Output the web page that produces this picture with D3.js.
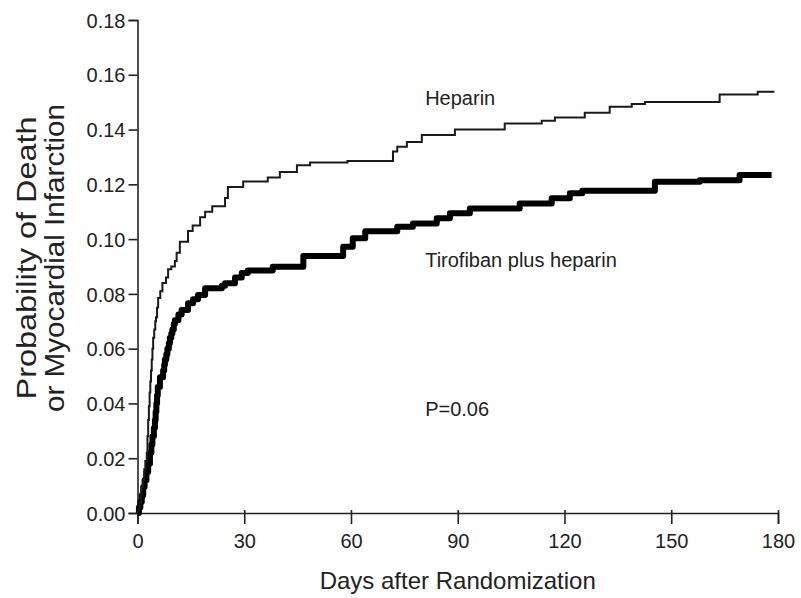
<!DOCTYPE html>
<html>
<head>
<meta charset="utf-8">
<script src="https://cdn.jsdelivr.net/npm/d3@7"></script>
<style>
  html, body { margin: 0; padding: 0; background: #fff; }
  svg text { font-family: "Liberation Sans", Arial, Helvetica, sans-serif; fill: #222; }
</style>
</head>
<body>
<svg id="chart" width="801" height="598"></svg>
<script>
// Kaplan-Meier style cumulative event curves: [day, probability]
const heparin = [
  [0, 0], [0.3, 0.002], [0.6, 0.004], [0.9, 0.007], [1.2, 0.0095], [1.5, 0.012],
  [1.9, 0.016], [2.2, 0.019], [2.6, 0.022], [2.8, 0.028], [3.0, 0.034], [3.2, 0.039],
  [3.4, 0.044], [3.6, 0.048], [3.8, 0.052], [4.0, 0.056], [4.2, 0.060], [4.4, 0.064],
  [4.7, 0.067], [5.0, 0.070], [5.2, 0.0715], [5.5, 0.075], [5.8, 0.0785], [6.4, 0.081],
  [7.0, 0.084], [8.0, 0.086], [8.6, 0.089], [9.5, 0.090], [10.5, 0.092], [11.0, 0.095],
  [11.9, 0.099], [14.2, 0.103], [15.5, 0.105], [17.6, 0.108], [19.0, 0.110], [21.0, 0.112],
  [24.6, 0.115], [25.4, 0.119], [29.7, 0.121], [36.6, 0.1225], [40.0, 0.1245], [44.8, 0.127],
  [48.5, 0.128], [59.0, 0.1285], [71.8, 0.132], [73.0, 0.1337], [75.7, 0.1355], [79.9, 0.138],
  [89.2, 0.140], [103.2, 0.1422], [113.6, 0.1432], [117.3, 0.1444], [125.7, 0.1461],
  [132.7, 0.1483], [138.9, 0.1493], [142.6, 0.1501], [163.6, 0.1528], [174.3, 0.1538],
  [179.0, 0.1538]
];

const tirofiban = [
  [0, 0], [0.4, 0.002], [0.8, 0.004], [1.2, 0.0065], [1.6, 0.0095], [2.0, 0.012],
  [2.5, 0.015], [3.0, 0.018], [3.5, 0.022], [3.9, 0.025], [4.2, 0.028], [4.6, 0.031],
  [4.9, 0.034], [5.1, 0.037], [5.3, 0.040], [5.5, 0.043], [5.7, 0.046], [6.3, 0.0496],
  [7.2, 0.052], [7.5, 0.054], [7.7, 0.056], [8.1, 0.058], [8.4, 0.060], [8.8, 0.062],
  [9.1, 0.064], [9.5, 0.0655], [9.8, 0.067], [10.2, 0.069], [10.5, 0.0704], [11.5, 0.0725],
  [12.4, 0.0741], [14.2, 0.0766], [15.6, 0.078], [17.0, 0.0796], [19.0, 0.0821], [23.7, 0.083],
  [24.6, 0.0839], [27.4, 0.086], [29.3, 0.0876], [31.0, 0.0885], [38.0, 0.0899], [46.6, 0.0938],
  [57.8, 0.0972], [60.5, 0.1003], [64.0, 0.1029], [73.0, 0.1045], [77.4, 0.1057], [84.1, 0.1076],
  [87.8, 0.1094], [93.4, 0.1112], [107.4, 0.113], [116.4, 0.1149], [121.5, 0.1167],
  [125.0, 0.1177], [145.4, 0.1209], [158.0, 0.1215], [169.2, 0.1234], [178.2, 0.1234]
];

const xTicks = [0, 30, 60, 90, 120, 150, 180];
const yTicks = [0, 0.02, 0.04, 0.06, 0.08, 0.10, 0.12, 0.14, 0.16, 0.18];

const seriesLabels = [
  { text: "Heparin", day: 80, value: 0.1489 },
  { text: "Tirofiban plus heparin", day: 80, value: 0.0898 },
  { text: "P=0.06", day: 80, value: 0.0355 }
];

const svg = d3.select("#chart");
const plot = { left: 137.5, right: 778, top: 20, bottom: 513 };

const x = d3.scaleLinear().domain([0, 180]).range([plot.left, plot.right]);
const y = d3.scaleLinear().domain([0, 0.18]).range([plot.bottom, plot.top]);

// Axes
const xAxis = svg.append("g")
  .attr("transform", `translate(0,${plot.bottom})`)
  .call(d3.axisBottom(x).tickValues(xTicks).tickSizeOuter(0).tickSize(11).tickFormat(d3.format("d")));
xAxis.selectAll(".tick line").attr("y1", -3).attr("y2", 11);
xAxis.selectAll(".tick text").attr("y", 35).attr("dy", null).style("font-size", "20px");

const yAxis = svg.append("g")
  .attr("transform", `translate(${plot.left},0)`)
  .call(d3.axisLeft(y).tickValues(yTicks).tickSizeOuter(0).tickSize(9).tickPadding(3).tickFormat(d3.format(".2f")));
yAxis.selectAll(".tick text").attr("dy", "0.36em").style("font-size", "20px");

svg.selectAll(".domain, .tick line").attr("stroke", "#222").attr("stroke-width", 1.6);

// Curves
const line = d3.line()
  .x(d => x(d[0]))
  .y(d => y(d[1]))
  .curve(d3.curveStepAfter);

svg.append("path")
  .datum(tirofiban)
  .attr("fill", "none")
  .attr("stroke", "#000")
  .attr("stroke-width", 6)
  .attr("stroke-linejoin", "round")
  .attr("d", line);

svg.append("path")
  .datum(heparin)
  .attr("fill", "none")
  .attr("stroke", "#1a1a1a")
  .attr("stroke-width", 2)
  .attr("d", line);

// Curve annotations
svg.selectAll("text.series-label")
  .data(seriesLabels)
  .join("text")
  .attr("class", "series-label")
  .attr("x", d => x(d.day) + 3)
  .attr("y", d => y(d.value))
  .style("font-size", "20px")
  .text(d => d.text);

// Axis titles
svg.append("text")
  .attr("x", (plot.left + plot.right) / 2)
  .attr("y", 589)
  .attr("text-anchor", "middle")
  .style("font-size", "24px")
  .text("Days after Randomization");

const yTitle = svg.append("text")
  .attr("transform", `translate(0,258) rotate(-90)`)
  .attr("text-anchor", "middle")
  .style("font-size", "28px");
yTitle.append("tspan").attr("x", 0).attr("y", 36)
  .attr("textLength", 283).attr("lengthAdjust", "spacingAndGlyphs")
  .text("Probability of Death");
yTitle.append("tspan").attr("x", 0).attr("y", 64)
  .attr("textLength", 308).attr("lengthAdjust", "spacingAndGlyphs")
  .text("or Myocardial Infarction");
</script>
</body>
</html>
